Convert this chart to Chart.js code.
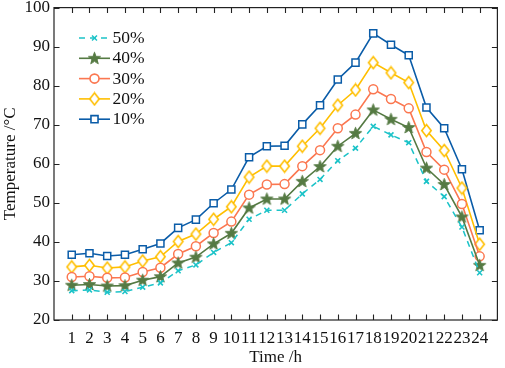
<!DOCTYPE html>
<html>
<head>
<meta charset="utf-8">
<script src="https://cdn.jsdelivr.net/npm/chart.js@4/dist/chart.umd.min.js"></script>
<style>
  html, body { margin: 0; padding: 0; background: #fff; }
  #wrap { width: 505px; height: 368px; }
</style>
</head>
<body>
<div id="wrap"><canvas id="c" width="505" height="368"></canvas></div>
<script>
// ---- data ----
const hours = [1,2,3,4,5,6,7,8,9,10,11,12,13,14,15,16,17,18,19,20,21,22,23,24];
const seriesLabels = ['50%', '40%', '30%', '20%', '10%'];
const s50 = [27.5,27.7,27.1,27.3,28.4,29.5,32.6,34.1,37.3,39.8,45.8,48.1,48.1,52.3,56.0,60.8,64.0,69.6,67.4,65.4,55.5,51.6,43.8,32.1];
const s40 = [28.9,29.1,28.7,28.8,30.2,31.1,34.6,36.1,39.5,42.2,48.7,51.0,51.0,55.5,59.3,64.5,67.8,73.8,71.4,69.3,58.9,54.7,46.4,34.0];
const s30 = [31.0,31.2,30.8,30.9,32.3,33.4,36.9,38.9,42.3,45.2,52.1,54.7,54.8,59.4,63.5,69.1,72.6,79.1,76.6,74.2,63.0,58.5,49.7,36.3];
const s20 = [33.6,34.0,33.3,33.6,35.1,36.2,40.1,42.0,45.8,49.0,56.6,59.4,59.4,64.5,69.1,75.0,78.9,85.9,83.3,80.8,68.5,63.4,53.8,39.4];
const s10 = [36.7,37.1,36.4,36.7,38.1,39.6,43.6,45.7,49.9,53.4,61.7,64.5,64.6,70.1,75.0,81.6,85.9,93.4,90.5,87.8,74.4,69.1,58.6,43.0];
const yTicks = [20,30,40,50,60,70,80,90,100];
const xTitle = 'Time /h';
const yTitle = 'Temperature /°C';

// ---- styles ----
const FONT = '"Liberation Serif", "DejaVu Serif", serif';
const FS = 17;
const C50 = '#1cc3c8', C40 = '#557a43', C30 = '#fb7750', C20 = '#ffbf00', C10 = '#0a5ca8';

function makeStar(color) {
  const cv = document.createElement('canvas');
  cv.width = 15; cv.height = 15;
  const g = cv.getContext('2d');
  const cx = 7.5, cy = 7.8, R = 6.4, r = 2.6;
  g.beginPath();
  for (let i = 0; i < 10; i++) {
    const a = -Math.PI / 2 + i * Math.PI / 5;
    const rr = i % 2 === 0 ? R : r;
    const px = cx + rr * Math.cos(a), py = cy + rr * Math.sin(a);
    if (i === 0) g.moveTo(px, py); else g.lineTo(px, py);
  }
  g.closePath();
  g.fillStyle = color; g.fill();
  g.strokeStyle = color; g.lineWidth = 1; g.stroke();
  return cv;
}
function makeDiamond(color) {
  const cv = document.createElement('canvas');
  cv.width = 13; cv.height = 15;
  const g = cv.getContext('2d');
  g.beginPath();
  g.moveTo(6.5, 1.5); g.lineTo(11.2, 7.5); g.lineTo(6.5, 13.5); g.lineTo(1.8, 7.5);
  g.closePath();
  g.fillStyle = '#fff'; g.fill();
  g.strokeStyle = color; g.lineWidth = 1.6; g.stroke();
  return cv;
}
const starImg = makeStar(C40);
const diamondImg = makeDiamond(C20);

function pts(arr) { return arr.map((v, i) => ({ x: hours[i], y: v })); }

const datasets = [
  { label: seriesLabels[0], data: pts(s50), borderColor: C50, backgroundColor: C50, borderWidth: 1.5, borderDash: [6, 5],
    pointStyle: 'crossRot', pointRadius: 3.5, pointBorderWidth: 1.6, pointBorderColor: C50 },
  { label: seriesLabels[1], data: pts(s40), borderColor: C40, backgroundColor: C40, borderWidth: 1.6,
    pointStyle: starImg, pointRadius: 6 },
  { label: seriesLabels[2], data: pts(s30), borderColor: C30, backgroundColor: '#fff', borderWidth: 1.6,
    pointStyle: 'circle', pointRadius: 4.5, pointBorderWidth: 1.5, pointBackgroundColor: '#fff', pointBorderColor: C30 },
  { label: seriesLabels[3], data: pts(s20), borderColor: C20, backgroundColor: '#fff', borderWidth: 1.6,
    pointStyle: diamondImg, pointRadius: 6 },
  { label: seriesLabels[4], data: pts(s10), borderColor: C10, backgroundColor: '#fff', borderWidth: 1.6,
    pointStyle: 'rect', pointRadius: 5, pointBorderWidth: 1.5, pointBackgroundColor: '#fff', pointBorderColor: C10 }
];
datasets.forEach(d => { d.tension = 0; d.fill = false; d.pointHoverRadius = d.pointRadius; });

// frame + inward ticks + legend
const framePlugin = {
  id: 'frame',
  afterDraw(chart) {
    const { ctx, chartArea: a, scales } = chart;
    ctx.save();
    ctx.strokeStyle = '#222';
    ctx.lineWidth = 1.2;
    ctx.strokeRect(a.left, a.top, a.right - a.left, a.bottom - a.top);
    ctx.lineWidth = 1.1;
    const tl = 5.5;
    ctx.beginPath();
    hours.forEach(h => {
      const x = Math.round(scales.x.getPixelForValue(h)) + 0.5;
      ctx.moveTo(x, a.bottom); ctx.lineTo(x, a.bottom - tl);
      ctx.moveTo(x, a.top); ctx.lineTo(x, a.top + tl);
    });
    yTicks.forEach(v => {
      const y = Math.round(scales.y.getPixelForValue(v)) + 0.5;
      ctx.moveTo(a.left, y); ctx.lineTo(a.left + tl, y);
      ctx.moveTo(a.right, y); ctx.lineTo(a.right - tl, y);
    });
    ctx.stroke();

    // legend
    const x0 = a.left + 25, x1 = a.left + 56, xm = (x0 + x1) / 2;
    const rowY0 = 38, rowStep = 20.3;
    datasets.forEach((d, i) => {
      const y = rowY0 + i * rowStep;
      ctx.save();
      ctx.strokeStyle = d.borderColor;
      ctx.lineWidth = d.borderWidth;
      ctx.setLineDash(d.borderDash || []);
      ctx.beginPath(); ctx.moveTo(x0, y); ctx.lineTo(x1, y); ctx.stroke();
      ctx.setLineDash([]);
      ctx.fillStyle = d.pointBackgroundColor || d.borderColor;
      ctx.strokeStyle = d.pointBorderColor || d.borderColor;
      Chart.helpers.drawPoint(ctx, { pointStyle: d.pointStyle, rotation: 0, radius: d.pointRadius, borderWidth: d.pointBorderWidth || 0 }, xm, y);
      ctx.restore();
      ctx.fillStyle = '#111';
      ctx.font = '17.5px ' + FONT;
      ctx.textBaseline = 'middle';
      ctx.textAlign = 'left';
      ctx.fillText(d.label, x1 + 2.5, y + 0.5);
    });
    ctx.restore();
  }
};

new Chart(document.getElementById('c'), {
  type: 'line',
  data: { datasets },
  options: {
    responsive: false,
    animation: false,
    layout: { padding: { left: 0, right: 2, top: 7, bottom: 0 } },
    plugins: { legend: { display: false }, tooltip: { enabled: false } },
    scales: {
      x: {
        type: 'linear', min: 0, max: 25,
        afterBuildTicks(s) { s.ticks = hours.map(v => ({ value: v })); },
        afterFit(s) { s.height = 48; s.paddingLeft = 0; s.paddingRight = 0; },
        grid: { display: false, drawTicks: false },
        border: { display: false },
        ticks: { autoSkip: false, maxRotation: 0, minRotation: 0, padding: 8, color: '#111',
                 font: { family: FONT, size: FS } },
        title: { display: true, text: xTitle, color: '#111', font: { family: FONT, size: FS }, padding: { top: 0, bottom: 0 } }
      },
      y: {
        min: 20, max: 100,
        afterBuildTicks(s) { s.ticks = yTicks.map(v => ({ value: v })); },
        afterFit(s) { s.width = 54; s.paddingTop = 0; s.paddingBottom = 0; },
        grid: { display: false, drawTicks: false },
        border: { display: false },
        ticks: { padding: 4, color: '#111', font: { family: FONT, size: FS } },
        title: { display: true, text: yTitle, color: '#111', font: { family: FONT, size: FS }, padding: { top: 0, bottom: 0 } }
      }
    }
  },
  plugins: [framePlugin]
});
</script>
</body>
</html>
